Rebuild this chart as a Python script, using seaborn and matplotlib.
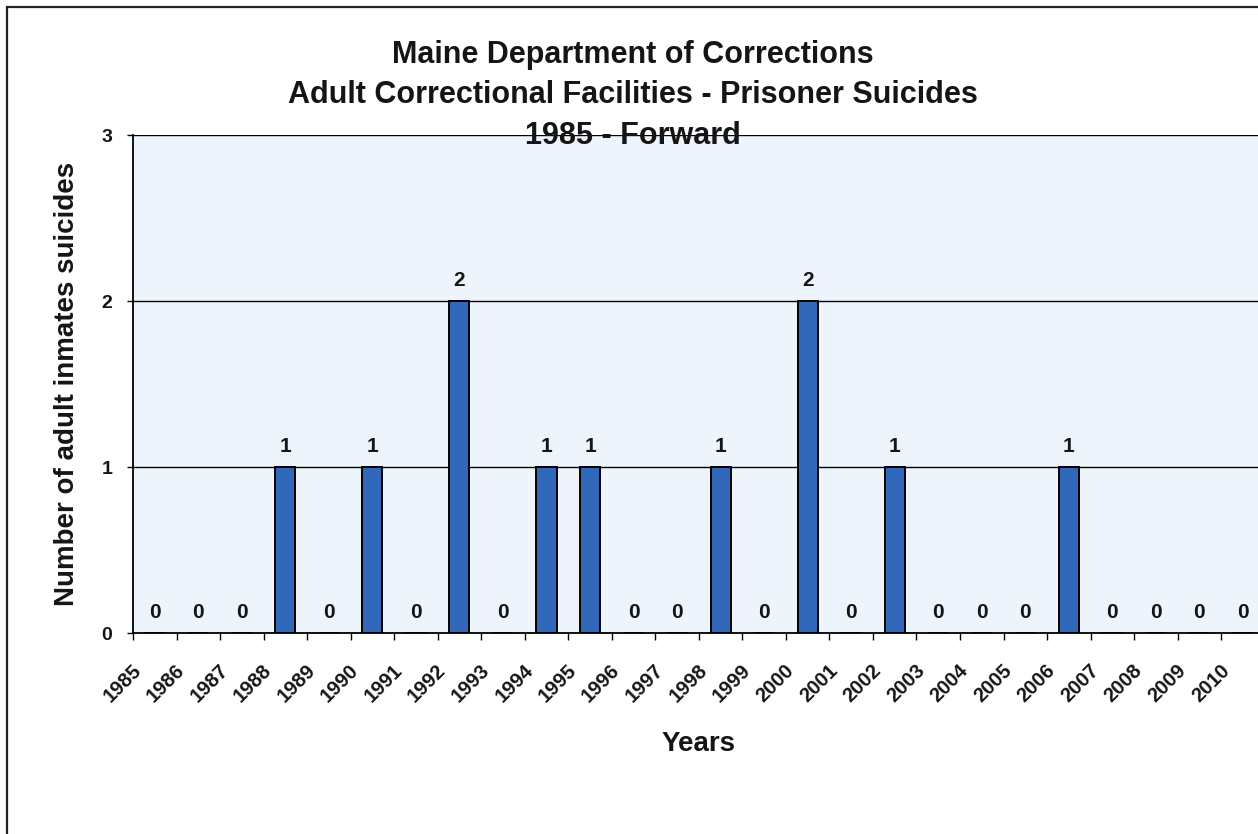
import matplotlib
matplotlib.use("Agg")
import matplotlib.pyplot as plt
import matplotlib.transforms as mtransforms
from matplotlib.patches import Rectangle
import seaborn as sns
import pandas as pd

# Yearly counts of adult inmate suicides
years = ["1985", "1986", "1987", "1988", "1989", "1990", "1991", "1992", "1993",
         "1994", "1995", "1996", "1997", "1998", "1999", "2000", "2001", "2002",
         "2003", "2004", "2005", "2006", "2007", "2008", "2009", "2010"]
suicides = [0, 0, 0, 1, 0, 1, 0, 2, 0, 1, 1, 0, 0, 1, 0, 2, 0, 1, 0, 0, 0, 1, 0, 0, 0, 0]
y_ticks = [0, 1, 2, 3]

title_lines = ["Maine Department of Corrections",
               "Adult Correctional Facilities - Prisoner Suicides",
               "1985 - Forward"]

BAR_COLOR = "#3168ba"
PLOT_BG = "#edf4fb"
INK = "#151515"

sns.set_theme(style="white")
plt.rcParams["font.family"] = ["Liberation Sans", "DejaVu Sans"]
plt.rcParams["font.weight"] = "bold"

W, H = 1258, 834
fig = plt.figure(figsize=(W / 100, H / 100), dpi=100)
fig.patch.set_facecolor("white")

# plot area in pixel terms
left_px, right_px, top_px, base_px = 133, 1264.7, 135, 633
ax = fig.add_axes([left_px / W, (H - base_px) / H,
                   (right_px - left_px) / W, (base_px - top_px) / H])
ax.set_facecolor(PLOT_BG)

df = pd.DataFrame({"Year": years, "Suicides": suicides})
sns.barplot(data=df, x="Year", y="Suicides", color=BAR_COLOR, saturation=1,
            width=0.46, edgecolor="black", linewidth=1.4, ax=ax, zorder=3)

ax.set_xlim(-0.5, len(years) - 0.5)
ax.set_ylim(0, 3)
ax.set_yticks(y_ticks)
ax.set_yticklabels([str(t) for t in y_ticks], fontsize=14, fontweight="bold",
                   color=INK)

# horizontal gridlines
ax.yaxis.grid(True, color="black", linewidth=1.0)
ax.xaxis.grid(False)
ax.set_axisbelow(True)

for side in ["top", "right"]:
    ax.spines[side].set_visible(False)
for side in ["left", "bottom"]:
    ax.spines[side].set_color("black")
    ax.spines[side].set_linewidth(1.3)

# category boundary tick marks, labels at category centres
ax.set_xticks([i + 0.5 for i in range(-1, len(years))], minor=True)
ax.tick_params(axis="x", which="minor", length=5, width=1, color="black",
               direction="out", bottom=True)
ax.tick_params(axis="x", which="major", length=0, pad=25)
ax.tick_params(axis="y", which="major", length=4.5, width=1, color="black",
               direction="out", left=True, pad=10.5)

shift = mtransforms.ScaledTranslation(-0.165, 0, fig.dpi_scale_trans)
for lab in ax.get_xticklabels():
    lab.set_rotation(45)
    lab.set_ha("right")
    lab.set_va("center")
    lab.set_rotation_mode("anchor")
    lab.set_fontsize(14.5)
    lab.set_fontweight("bold")
    lab.set_color(INK)
    lab.set_transform(lab.get_transform() + shift)

# value labels above each bar
ax.bar_label(ax.containers[0], labels=[str(v) for v in suicides], padding=8,
             fontsize=15, fontweight="bold", color=INK)

ax.set_xlabel("Years", fontsize=20, fontweight="bold", color=INK)
ax.set_ylabel("Number of adult inmates suicides", fontsize=20,
              fontweight="bold", color=INK)
ax.xaxis.set_label_coords(0.5, -0.196)
ax.yaxis.set_label_coords(-0.047, 0.5)

# three-line title
for text, base in zip(title_lines, [63, 103, 144]):
    fig.text(633 / W, (H - base) / H, text, ha="center", va="baseline",
             fontsize=22, fontweight="bold", color=INK)

# chart frame
fig.patches.append(Rectangle((7 / W, -0.2), 2.0, (H - 7) / H + 0.2,
                             transform=fig.transFigure, fill=False,
                             edgecolor="#222222", linewidth=1.6))

fig.savefig("out.png", dpi=100)
